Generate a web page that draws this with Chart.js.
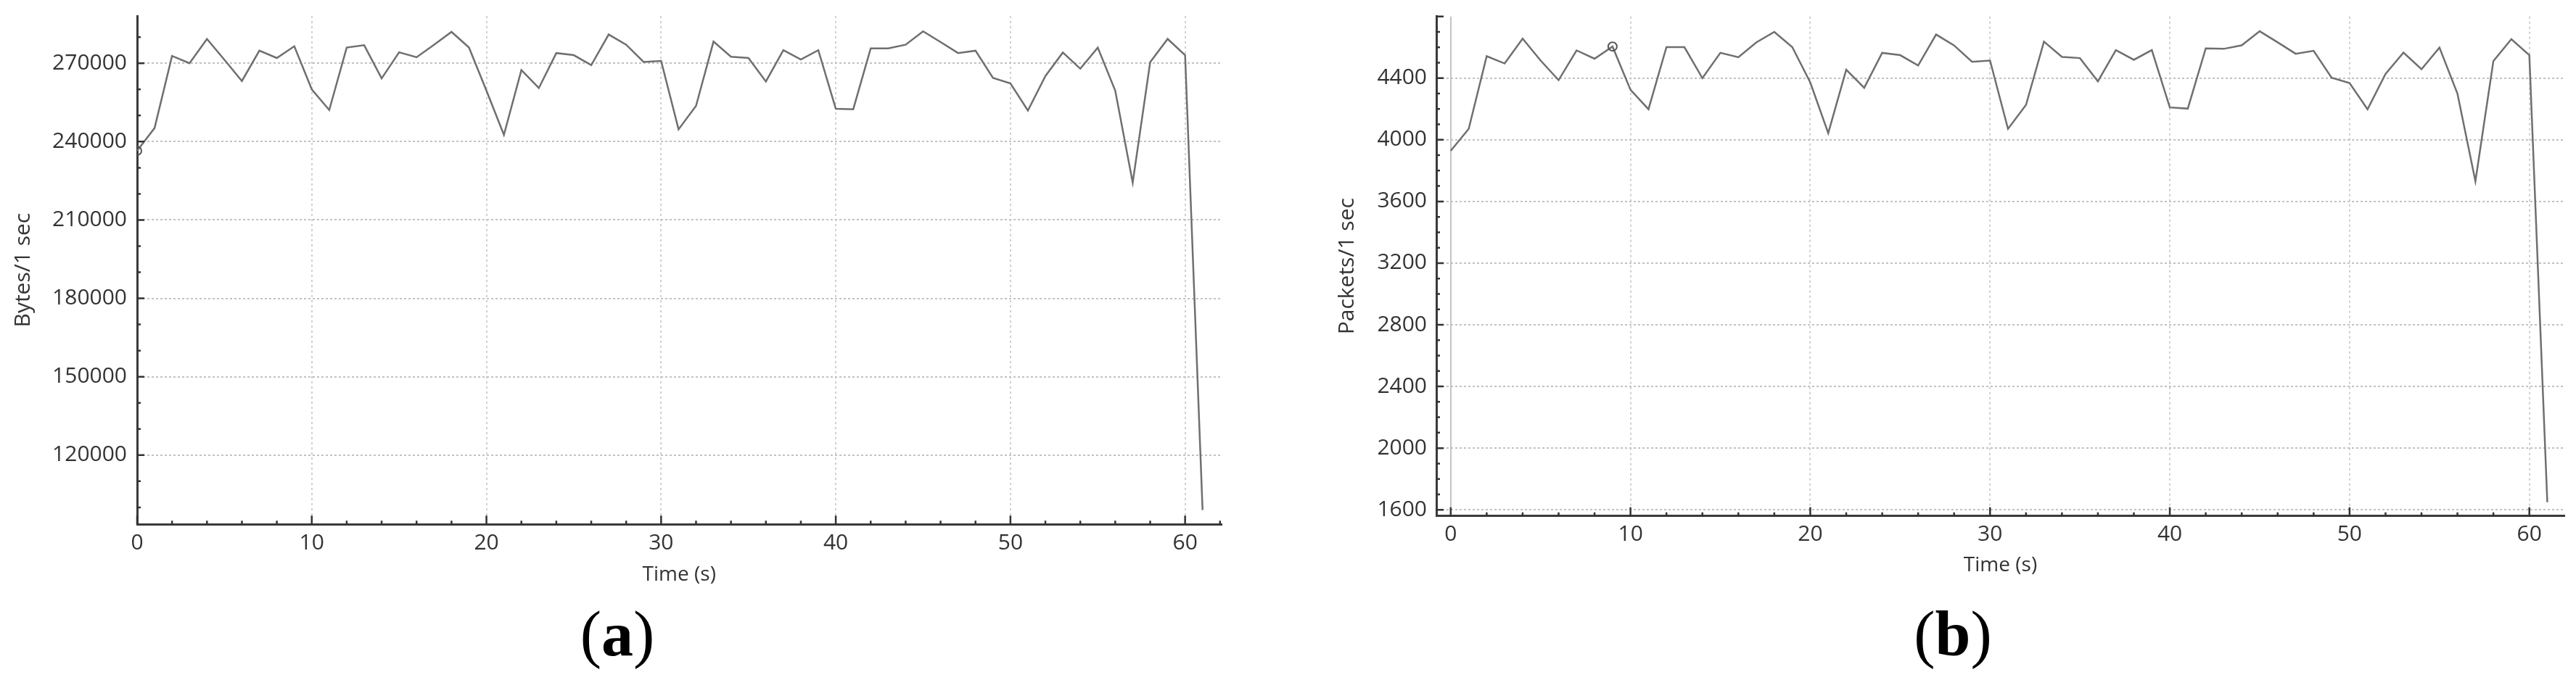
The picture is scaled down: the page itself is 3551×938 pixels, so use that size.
<!DOCTYPE html>
<html>
<head>
<meta charset="utf-8">
<script src="https://cdn.jsdelivr.net/npm/chart.js@4.4.1/dist/chart.umd.min.js"></script>
<style>
  html, body { margin: 0; padding: 0; background: #fff; }
  body { width: 3551px; height: 938px; position: relative; overflow: hidden; }
  canvas { position: absolute; top: 0; }
  .cap { position: absolute; width: 200px; text-align: center; font-family: "Liberation Serif", "Times New Roman", serif;
         font-size: 88px; line-height: 1; color: #000; }
</style>
</head>
<body>
<canvas id="bytesChart" width="1775" height="830" style="left:0"></canvas>
<canvas id="packetsChart" width="1776" height="830" style="left:1775px"></canvas>
<div class="cap" style="left:751px; top:831px">(<b>a</b>)</div>
<div class="cap" style="left:2592px; top:831px">(<b>b</b>)</div>
<script>
var seconds = [0, 1, 2, 3, 4, 5, 6, 7, 8, 9, 10, 11, 12, 13, 14, 15, 16, 17, 18, 19, 20,
               21, 22, 23, 24, 25, 26, 27, 28, 29, 30, 31, 32, 33, 34, 35, 36, 37, 38, 39, 40,
               41, 42, 43, 44, 45, 46, 47, 48, 49, 50, 51, 52, 53, 54, 55, 56, 57, 58, 59, 60, 61];

var bytesPerSec = [236500, 245200, 272800, 270000, 279300, 271300, 263200, 274800, 272000, 276500,
                   260000, 252100, 276000, 276900, 264200, 274200, 272300, 277100, 282000, 276000,
                   259500, 242600, 267400, 260500, 273900, 273100, 269300, 281000, 277100, 270500,
                   270900, 244700, 253700, 278300, 272500, 272000, 263000, 275000, 271400, 275000,
                   252600, 252400, 275700, 275700, 277100, 282200, 278100, 273900, 274800, 264400,
                   262300, 251900, 265100, 274100, 267900, 276000, 259500, 224300, 270400, 279300,
                   273100, 99000];

var packetsPerSec = [3929, 4071, 4542, 4495, 4656, 4514, 4387, 4580, 4526, 4605,
                     4324, 4198, 4601, 4601, 4400, 4564, 4536, 4632, 4700, 4601,
                     4372, 4043, 4455, 4337, 4564, 4549, 4482, 4683, 4612, 4506,
                     4514, 4071, 4226, 4637, 4538, 4530, 4379, 4582, 4519, 4582,
                     4210, 4202, 4593, 4590, 4613, 4704, 4632, 4558, 4577, 4403,
                     4368, 4198, 4427, 4566, 4458, 4598, 4300, 3731, 4511, 4653,
                     4549, 1649];

var timeTicks = [0, 10, 20, 30, 40, 50, 60];
var bytesTicks = [120000, 150000, 180000, 210000, 240000, 270000];
var packetsTicks = [1600, 2000, 2400, 2800, 3200, 3600, 4000, 4400];

Chart.defaults.font.family = '"Open Sans", sans-serif';
Chart.defaults.color = '#333';

// small tick marks drawn inside the plot, like the original tool does
var innerTicks = {
  id: 'innerTicks',
  afterDatasetsDraw: function (chart, args, o) {
    var ctx = chart.ctx, a = chart.chartArea, x = chart.scales.x, y = chart.scales.y;
    var v, p, len;
    ctx.save();
    ctx.strokeStyle = '#333';
    ctx.lineWidth = 2.5;
    ctx.beginPath();
    for (v = 0; v <= x.max; v += 2) {
      p = x.getPixelForValue(v);
      len = v % 10 === 0 ? 12 : 5;
      ctx.moveTo(p, a.bottom);
      ctx.lineTo(p, a.bottom - len);
    }
    for (v = Math.ceil(y.min / o.yMinor) * o.yMinor; v <= y.max; v += o.yMinor) {
      p = y.getPixelForValue(v);
      len = Math.round(v / o.yMinor) % o.yEvery === 0 ? 10 : 5;
      ctx.moveTo(a.left, p);
      ctx.lineTo(a.left + len, p);
    }
    ctx.stroke();
    ctx.restore();
  }
};

function makeChart(id, values, yTicks, yLabel, cfg) {
  return new Chart(document.getElementById(id), {
    type: 'line',
    data: {
      datasets: [{
        data: seconds.map(function (t, i) { return { x: t, y: values[i] }; }),
        borderColor: '#6f6f6f',
        borderWidth: 2.5,
        tension: 0,
        pointRadius: function (c) { return c.dataIndex === cfg.mark ? 6 : 0; },
        pointBorderColor: '#555',
        pointBorderWidth: 2,
        pointBackgroundColor: 'rgba(255,255,255,0)'
      }]
    },
    options: {
      responsive: false,
      animation: false,
      layout: { padding: cfg.pad },
      plugins: {
        legend: { display: false },
        tooltip: { enabled: false },
        innerTicks: { yMinor: cfg.yMinor, yEvery: cfg.yEvery }
      },
      scales: {
        x: {
          type: 'linear',
          min: cfg.xMin,
          max: cfg.xMax,
          afterBuildTicks: function (s) { s.ticks = timeTicks.map(function (v) { return { value: v }; }); },
          afterFit: function (s) { s.height = cfg.xH; s.paddingLeft = 0; s.paddingRight = 0; },
          ticks: { font: { size: 30 }, padding: 8, color: '#333', maxRotation: 0,
                   callback: function (v) { return v; } },
          grid: {
            color: function (c) { return c.tick && c.tick.value === 0 && cfg.zeroSolid ? '#c4c4c4' : '#d0d0d0'; },
            lineWidth: 2,
            drawTicks: false
          },
          border: {
            color: '#3a3a3a', width: 3,
            dash: function (c) { return c.tick && c.tick.value === 0 && cfg.zeroSolid ? [] : [3, 4]; }
          },
          title: { display: true, text: 'Time (s)', font: { size: 28 }, color: '#333',
                   padding: { top: 0, bottom: cfg.xTitlePad } }
        },
        y: {
          min: cfg.yMin,
          max: cfg.yMax,
          afterBuildTicks: function (s) { s.ticks = yTicks.map(function (v) { return { value: v }; }); },
          afterFit: function (s) { s.width = cfg.yW; s.paddingTop = 0; s.paddingBottom = 0; },
          ticks: { font: { size: 30 }, padding: cfg.yTickPad, color: '#333',
                   callback: function (v) { return v; } },
          grid: { color: '#c2c2c2', lineWidth: 2, drawTicks: false },
          border: { color: '#3a3a3a', width: 3, dash: [3, 3] },
          title: { display: true, text: yLabel, font: { size: 30 }, color: '#333',
                   padding: { top: cfg.yTitlePad, bottom: 0 } }
        }
      }
    },
    plugins: [innerTicks]
  });
}

makeChart('bytesChart', bytesPerSec, bytesTicks, 'Bytes/1 sec', {
  pad: { left: 0, top: 22, right: 91.5, bottom: 0 },
  xMin: 0, xMax: 62.07, yMin: 93500, yMax: 288100,
  xH: 106.7, xTitlePad: 20, yW: 189, yTitlePad: 14, yTickPad: 14,
  yMinor: 10000, yEvery: 3, mark: 0, zeroSolid: false
});

makeChart('packetsChart', packetsPerSec, packetsTicks, 'Packets/1 sec', {
  pad: { left: 0, top: 22.7, right: 16, bottom: 0 },
  xMin: -0.8, xMax: 61.95, yMin: 1560, yMax: 4800,
  xH: 118.3, xTitlePad: 33, yW: 205, yTitlePad: 64.5, yTickPad: 13,
  yMinor: 100, yEvery: 4, mark: 9, zeroSolid: true
});
</script>
</body>
</html>
